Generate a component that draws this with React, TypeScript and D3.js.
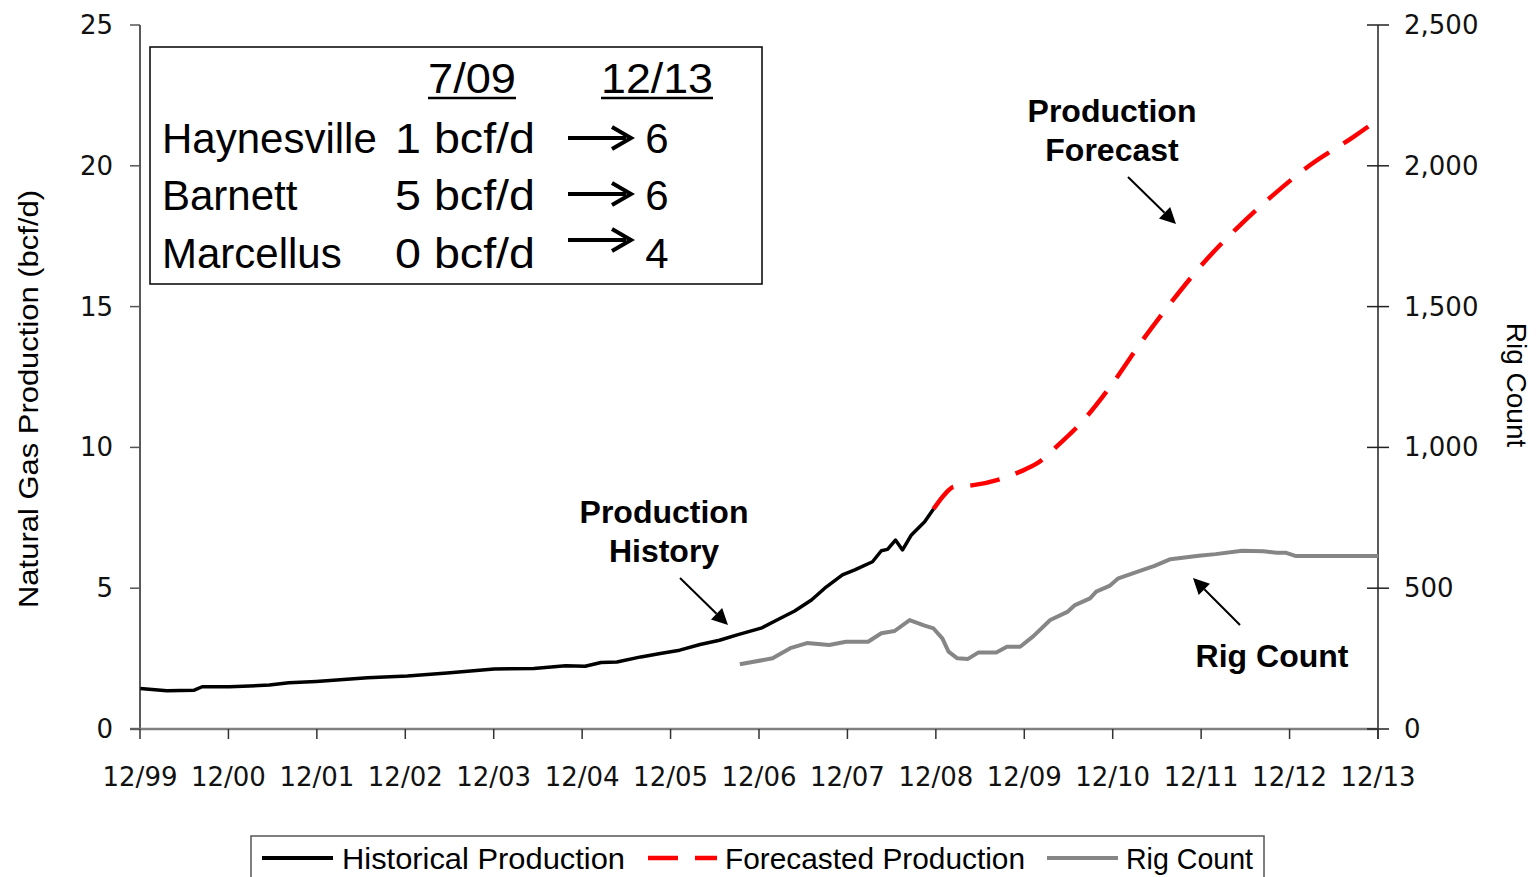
import * as React from "react";
import * as d3 from "d3";

// decimal years
const histYears = [1999.92, 2000.22, 2000.53, 2000.62, 2000.93, 2001.38, 2001.6, 2001.91, 2002.49, 2002.94, 2003.39, 2003.92, 2004.37, 2004.73, 2004.95, 2005.13, 2005.31, 2005.58, 2005.8, 2006.02, 2006.25, 2006.47, 2006.67, 2006.94, 2007.12, 2007.32, 2007.51, 2007.66, 2007.86, 2008.0, 2008.2, 2008.3, 2008.37, 2008.46, 2008.54, 2008.64, 2008.79, 2008.89];
const histValues = [1.44, 1.36, 1.38, 1.5, 1.5, 1.56, 1.64, 1.69, 1.82, 1.88, 1.99, 2.13, 2.15, 2.25, 2.23, 2.36, 2.38, 2.56, 2.68, 2.8, 3.0, 3.15, 3.34, 3.58, 3.87, 4.19, 4.58, 5.0, 5.47, 5.65, 5.94, 6.33, 6.38, 6.71, 6.36, 6.89, 7.36, 7.81];

const fcstYears = [2008.89, 2009.03, 2009.12, 2009.34, 2009.65, 2009.87, 2010.06, 2010.32, 2010.57, 2010.92, 2011.23, 2011.57, 2011.94, 2012.32, 2012.73, 2013.15, 2013.64, 2013.92];
const fcstValues = [7.81, 8.38, 8.6, 8.66, 8.88, 9.14, 9.43, 10.14, 10.91, 12.29, 13.7, 15.12, 16.54, 17.78, 18.96, 20.03, 21.03, 21.65];

const rigYears = [2006.7, 2007.07, 2007.27, 2007.46, 2007.71, 2007.9, 2008.15, 2008.3, 2008.45, 2008.62, 2008.79, 2008.89, 2008.99, 2009.06, 2009.16, 2009.28, 2009.4, 2009.6, 2009.72, 2009.87, 2010.02, 2010.21, 2010.41, 2010.49, 2010.66, 2010.73, 2010.88, 2010.98, 2011.2, 2011.39, 2011.57, 2011.89, 2012.08, 2012.38, 2012.62, 2012.77, 2012.87, 2012.99, 2013.92];
const rigValues = [230, 251, 287, 305, 298, 310, 310, 340, 348, 387, 367, 357, 322, 275, 251, 249, 272, 272, 292, 292, 330, 387, 417, 440, 464, 488, 508, 535, 559, 579, 603, 615, 621, 633, 631, 626, 626, 614, 614];

const xTickLabels = ["12/99", "12/00", "12/01", "12/02", "12/03", "12/04", "12/05", "12/06", "12/07", "12/08", "12/09", "12/10", "12/11", "12/12", "12/13"];
const leftTicks = [0, 5, 10, 15, 20, 25];
const rightTicks = [0, 500, 1000, 1500, 2000, 2500];

const tablePlays = ["Haynesville", "Barnett", "Marcellus"];
const tableNow = ["1 bcf/d", "5 bcf/d", "0 bcf/d"];
const tableLater = ["6", "6", "4"];

const sans = "'Liberation Sans', Arial, sans-serif";
const tickFont = "'DejaVu Sans', Verdana, sans-serif";

export default function App() {
  const width = 1536;
  const height = 877;
  const x0 = 1999 + 11 / 12;
  const x = d3.scaleLinear().domain([x0, x0 + 14]).range([140, 1378]);
  const y = d3.scaleLinear().domain([0, 25]).range([729, 25]);
  const yr = d3.scaleLinear().domain([0, 2500]).range([729, 25]);

  const hist = histYears.map((d, i) => [d, histValues[i]] as [number, number]);
  const fcst = fcstYears.map((d, i) => [d, fcstValues[i]] as [number, number]);
  const rig = rigYears.map((d, i) => [d, rigValues[i]] as [number, number]);

  const lineL = d3.line<[number, number]>().x(d => x(d[0])).y(d => y(d[1]));
  const lineF = d3.line<[number, number]>().x(d => x(d[0])).y(d => y(d[1])).curve(d3.curveMonotoneX);
  const lineR = d3.line<[number, number]>().x(d => x(d[0])).y(d => yr(d[1]));

  const fmt = d3.format(",");

  const arrow = (x1: number, y1: number, x2: number, y2: number, key: string) => {
    const a = Math.atan2(y2 - y1, x2 - x1);
    const len = 16, w = 8;
    const bx = x2 - len * Math.cos(a), by = y2 - len * Math.sin(a);
    const p1 = [bx + w * Math.sin(a), by - w * Math.cos(a)];
    const p2 = [bx - w * Math.sin(a), by + w * Math.cos(a)];
    return (
      <g key={key}>
        <line x1={x1} y1={y1} x2={bx} y2={by} stroke="#000" strokeWidth={2} />
        <path d={`M${x2},${y2}L${p1[0]},${p1[1]}L${p2[0]},${p2[1]}Z`} fill="#000" />
      </g>
    );
  };

  const rowBase = [153, 210, 268];
  const arrowY = [138, 194, 240];

  return (
    <svg width={width} height={height} style={{ position: "absolute", left: 0, top: 0, background: "#fff" }}>
      {/* axes */}
      <line x1={140} y1={25} x2={140} y2={729} stroke="#222" strokeWidth={1.5} />
      <line x1={1378} y1={25} x2={1378} y2={739} stroke="#222" strokeWidth={1.5} />
      <line x1={130} y1={729} x2={1378} y2={729} stroke="#808080" strokeWidth={2.5} />
      {leftTicks.map(t => (
        <g key={"l" + t}>
          <line x1={130} x2={140} y1={y(t)} y2={y(t)} stroke="#555" strokeWidth={1.5} />
          <text x={113} y={y(t) + 9} textAnchor="end" fontFamily={tickFont} fontSize={26} fill="#111">{t}</text>
        </g>
      ))}
      {rightTicks.map(t => (
        <g key={"r" + t}>
          <line x1={1367} x2={1389} y1={yr(t)} y2={yr(t)} stroke="#222" strokeWidth={1.5} />
          <text x={1404} y={yr(t) + 9} fontFamily={tickFont} fontSize={26} fill="#111">{fmt(t)}</text>
        </g>
      ))}
      {xTickLabels.map((lab, i) => (
        <g key={lab}>
          <line x1={x(x0 + i)} x2={x(x0 + i)} y1={729} y2={739} stroke="#333" strokeWidth={1.5} />
          <text x={x(x0 + i)} y={786} textAnchor="middle" fontFamily={tickFont} fontSize={26} fill="#111">{lab}</text>
        </g>
      ))}
      <text transform="translate(38,399) rotate(-90)" textAnchor="middle" fontFamily={sans} fontSize={28}
        textLength={418} lengthAdjust="spacingAndGlyphs">Natural Gas Production (bcf/d)</text>
      <text transform="translate(1507,385) rotate(90)" textAnchor="middle" fontFamily={sans} fontSize={28}>Rig Count</text>

      {/* series */}
      <path d={lineR(rig) || ""} fill="none" stroke="#868686" strokeWidth={4} strokeLinejoin="round" />
      <path d={lineF(fcst) || ""} fill="none" stroke="#ff0000" strokeWidth={4.5} strokeDasharray="30,17" />
      <path d={lineL(hist) || ""} fill="none" stroke="#000" strokeWidth={3.5} strokeLinejoin="round" />

      {/* annotations */}
      <g fontFamily={sans} fontWeight="bold" fontSize={32} textAnchor="middle">
        <text x={664} y={523}>Production</text>
        <text x={664} y={562}>History</text>
        <text x={1112} y={122}>Production</text>
        <text x={1112} y={161}>Forecast</text>
        <text x={1272} y={667}>Rig Count</text>
      </g>
      {arrow(680, 578, 728, 625, "a1")}
      {arrow(1128, 177, 1176, 224, "a2")}
      {arrow(1240, 625, 1193, 578, "a3")}

      {/* table box */}
      <rect x={150} y={47} width={612} height={237} fill="#fff" stroke="#000" strokeWidth={1.5} />
      <g fontFamily={sans} fontSize={42}>
        <text x={428} y={93} textLength={88} lengthAdjust="spacingAndGlyphs">7/09</text>
        <text x={601} y={93} textLength={112} lengthAdjust="spacingAndGlyphs">12/13</text>
        <line x1={428} x2={516} y1={98} y2={98} stroke="#000" strokeWidth={2.5} />
        <line x1={601} x2={713} y1={98} y2={98} stroke="#000" strokeWidth={2.5} />
        {tablePlays.map((p, i) => (
          <g key={p}>
            <text x={162} y={rowBase[i]}>{p}</text>
            <text x={395} y={rowBase[i]} textLength={140} lengthAdjust="spacingAndGlyphs">{tableNow[i]}</text>
            <text x={657} y={rowBase[i]} textAnchor="middle">{tableLater[i]}</text>
            <line x1={568} x2={626} y1={arrowY[i]} y2={arrowY[i]} stroke="#000" strokeWidth={4} />
            <path d={`M612,${arrowY[i] - 11}L631,${arrowY[i]}L612,${arrowY[i] + 11}`} fill="none" stroke="#000" strokeWidth={4} />
          </g>
        ))}
      </g>

      {/* legend */}
      <rect x={251} y={836} width={1013} height={50} fill="#fff" stroke="#555" strokeWidth={1.5} />
      <g fontFamily={sans} fontSize={29}>
        <line x1={262} x2={333} y1={858} y2={858} stroke="#000" strokeWidth={4} />
        <text x={342} y={869} textLength={283} lengthAdjust="spacingAndGlyphs">Historical Production</text>
        <line x1={648} x2={717} y1={858} y2={858} stroke="#ff0000" strokeWidth={4.5} strokeDasharray="30,17" />
        <text x={725} y={869} textLength={300} lengthAdjust="spacingAndGlyphs">Forecasted Production</text>
        <line x1={1047} x2={1118} y1={858} y2={858} stroke="#868686" strokeWidth={4} />
        <text x={1126} y={869} textLength={127} lengthAdjust="spacingAndGlyphs">Rig Count</text>
      </g>
    </svg>
  );
}
